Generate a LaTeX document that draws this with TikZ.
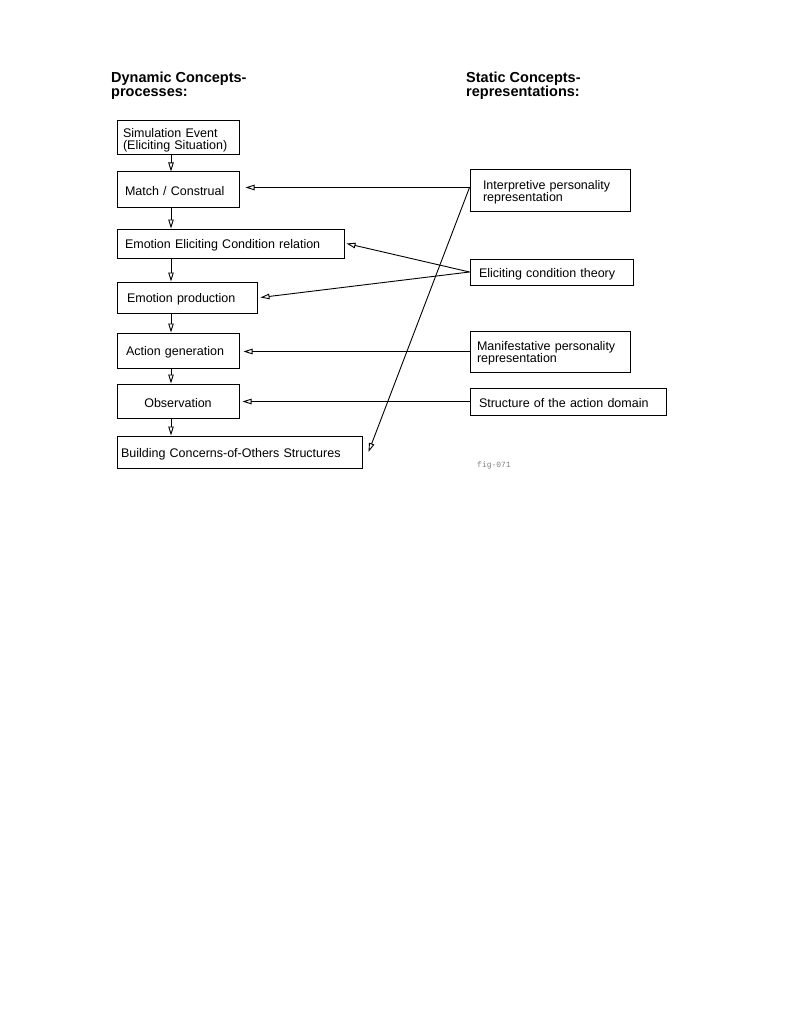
\documentclass[tikz,border=0pt]{standalone}
\usepackage{fontspec}
\setmainfont{Liberation Sans}
\newfontfamily\monofam{Liberation Mono}
\usetikzlibrary{arrows.meta}
\begin{document}
\begin{tikzpicture}[x=1pt,y=-1pt,
 box/.style={draw, line width=1pt, inner ysep=0pt, align=left, font=\fontsize{12.5}{12}\selectfont,
   execute at begin node={\rule{0pt}{13pt}}},
 arr/.style={line width=0.9pt, -{Triangle[open,length=9pt,width=5.5pt]}},
 title/.style={font=\fontsize{14.5}{14}\selectfont\bfseries, align=left, anchor=north west, inner sep=0pt},
 figlabel/.style={font=\monofam\fontsize{8}{8}\selectfont, text=gray, anchor=west, inner sep=0pt}]
\useasboundingbox[fill=white] (0,0) rectangle (800,1035);

\node[title] (tdyn) at (111,72) {Dynamic Concepts-\\processes:};
\node[title] (tsta) at (466,72) {Static Concepts-\\representations:};

\node[box, minimum width=122, minimum height=34, text width=110, inner xsep=6] (sim) at (178,138) {Simulation Event\\(Eliciting Situation)};
\node[box, minimum width=122, minimum height=35, text width=106, inner xsep=8] (match) at (178,189.5) {Match / Construal};
\node[box, minimum width=227, minimum height=29, text width=211, inner xsep=8] (ecr) at (230.5,243.5) {Emotion Eliciting Condition relation};
\node[box, minimum width=140, minimum height=31, text width=120, inner xsep=10] (ep) at (187,297.5) {Emotion production};
\node[box, minimum width=122, minimum height=35, text width=104, inner xsep=9] (ag) at (178,350.5) {Action generation};
\node[box, minimum width=122, minimum height=34, text width=110, inner xsep=6, align=center] (obs) at (178,401) {Observation};
\node[box, minimum width=245, minimum height=32, text width=237, inner xsep=4] (bld) at (239.5,452) {Building Concerns-of-Others Structures};

\node[box, minimum width=160, minimum height=41, text width=134, inner xsep=13] (interp) at (550,190.5) {Interpretive personality\\representation};
\node[box, minimum width=163, minimum height=26, text width=145, inner xsep=9] (ect) at (551.5,272) {Eliciting condition theory};
\node[box, minimum width=160, minimum height=41, text width=146, inner xsep=7] (man) at (550,351.5) {Manifestative personality\\representation};
\node[box, minimum width=196, minimum height=27, text width=178, inner xsep=9] (sad) at (568,401.5) {Structure of the action domain};

\node[figlabel] (fig) at (477,465) {fig-071};

\coordinate (cx) at (171,0);
\foreach \a/\b in {sim/match, match/ecr, ecr/ep, ep/ag, ag/obs, obs/bld}
  \draw[arr] (\a.south -| cx) -- (\b.north -| cx);

\coordinate (i1) at ([yshift=3pt]interp.west);
\coordinate (mt) at ([xshift=6pt]match.east);
\draw[arr] (i1) -- (i1 -| mt);
\draw[arr] (ect.west) -- ([xshift=2pt]ecr.east);
\draw[arr] (ect.west) -- ([xshift=3pt]ep.east);
\coordinate (agt) at ([xshift=4pt]ag.east);
\draw[arr] (man.west) -- (man.west -| agt);
\coordinate (obt) at ([xshift=3pt]obs.east);
\draw[arr] (sad.west) -- (sad.west -| obt);
\draw[arr] (i1) -- ([xshift=6pt]bld.east);
\end{tikzpicture}
\end{document}
